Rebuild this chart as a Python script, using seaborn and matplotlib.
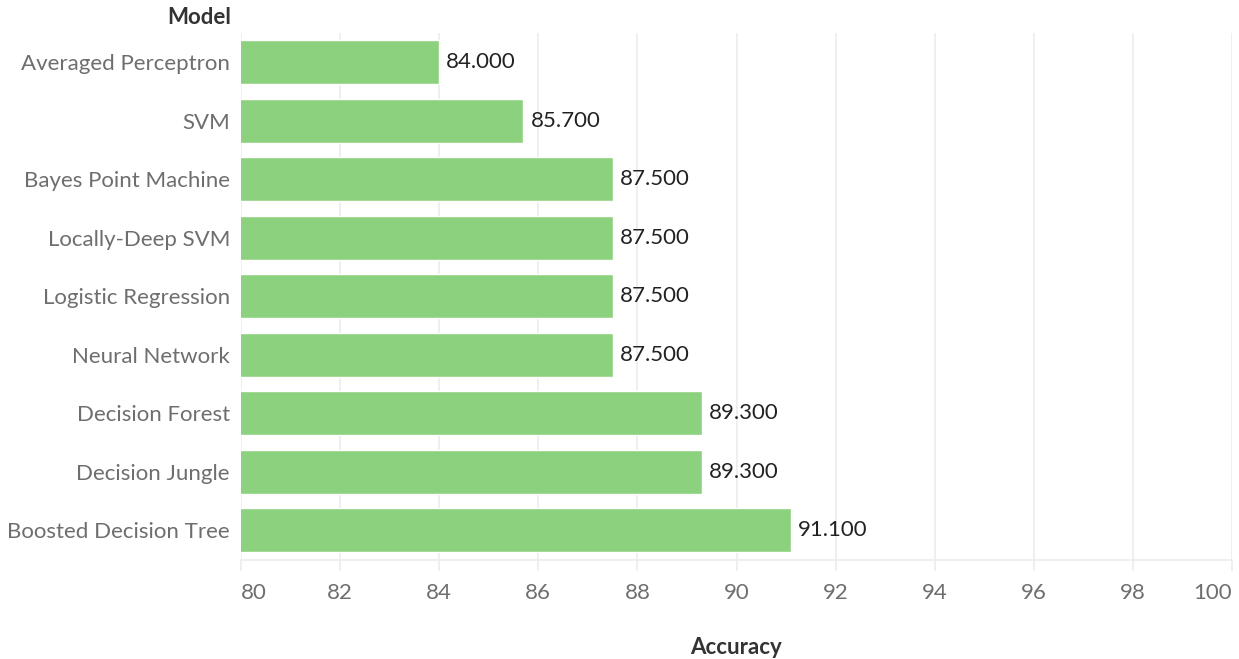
import matplotlib
matplotlib.use("Agg")
import matplotlib.pyplot as plt
import seaborn as sns
import pandas as pd

models = ["Averaged Perceptron", "SVM", "Bayes Point Machine", "Locally-Deep SVM",
          "Logistic Regression", "Neural Network", "Decision Forest", "Decision Jungle",
          "Boosted Decision Tree"]
accuracy = [84.0, 85.7, 87.5, 87.5, 87.5, 87.5, 89.3, 89.3, 91.1]
x_ticks = [80, 82, 84, 86, 88, 90, 92, 94, 96, 98, 100]

df = pd.DataFrame({"Model": models, "Accuracy": accuracy})

sns.set_theme(style="white")
plt.rcParams["font.family"] = ["Lato", "DejaVu Sans"]

fig = plt.figure(figsize=(12.39, 6.59), dpi=100)
ax = fig.add_axes([241 / 1239, 1 - 559.5 / 659, (1232 - 241) / 1239, (559.5 - 33) / 659])

sns.barplot(data=df, x="Accuracy", y="Model", orient="h", color="#8cd17d",
            saturation=1, width=0.75, ax=ax, zorder=3)

ax.set_xlim(80, 100)
ax.set_ylim(len(models) - 0.5, -0.5)
ax.set_xticks(x_ticks)
ax.set_xticklabels([str(t) for t in x_ticks])
ax.xaxis.grid(True, color="#ececec", linewidth=1.2, zorder=0)
ax.yaxis.grid(False)

for side in ["top", "right", "left"]:
    ax.spines[side].set_visible(False)
ax.spines["bottom"].set_color("#ececec")
ax.spines["bottom"].set_linewidth(1.2)

ax.tick_params(axis="x", length=8, width=1.2, color="#ececec", labelsize=16,
               labelcolor="#6e6e6e", pad=9, bottom=True)
ax.tick_params(axis="y", length=0, labelsize=16, labelcolor="#6e6e6e", pad=8)

labels = ax.get_xticklabels()
labels[0].set_horizontalalignment("left")
labels[-1].set_horizontalalignment("right")

for cont in ax.containers:
    ax.bar_label(cont, labels=[f"{v:.3f}" for v in accuracy], padding=5,
                 fontsize=16, color="#222222")

ax.set_xlabel("")
ax.set_ylabel("")
fig.text(736 / 1239, 1 - 647 / 659, "Accuracy", ha="center", va="center",
         fontsize=16, fontweight="bold", color="#333333")
fig.text(231 / 1239, 1 - 18 / 659, "Model", ha="right", va="center",
         fontsize=16, fontweight="bold", color="#333333")

fig.savefig("out.png", dpi=100)
